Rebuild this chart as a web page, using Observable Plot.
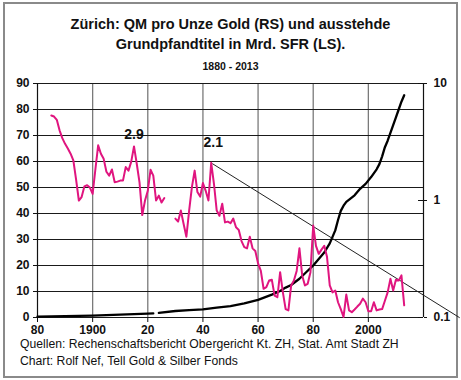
<!DOCTYPE html>
<html><head><meta charset="utf-8">
<script src="https://cdn.jsdelivr.net/npm/d3@7"></script>
<script src="https://cdn.jsdelivr.net/npm/@observablehq/plot@0.6"></script>
<style>
body{margin:0;width:461px;height:380px;position:relative;background:#fff;font-family:"Liberation Sans",Arial,sans-serif;overflow:hidden}
.frame{position:absolute;left:3px;top:2px;width:451px;height:372px;border:2px solid #8a8a8a}
.t{position:absolute;left:0;width:461px;text-align:center;font-weight:bold;color:#111}
#chart,#overlay{position:absolute;left:0;top:72px}
.cap{position:absolute;left:20px;top:336px;font-size:12.2px;line-height:16.5px;color:#111;white-space:nowrap}
</style></head><body>
<div class="frame"></div>
<div class="t" style="top:14px;font-size:14.5px;line-height:20px">Zürich: QM pro Unze Gold (RS) und ausstehde<br>Grundpfandtitel in Mrd. SFR (LS).</div>
<div class="t" style="top:60px;font-size:10.5px;line-height:12px">1880 - 2013</div>
<div id="chart"></div>
<div id="overlay"></div>
<div class="cap">Quellen: Rechenschaftsbericht Obergericht Kt. ZH, Stat. Amt Stadt ZH<br>Chart: Rolf Nef, Tell Gold &amp; Silber Fonds</div>
<script>
// Grundpfandtitel (Mrd. SFR, left scale)
const mortYears = [1880,1885,1890,1895,1900,1905,1910,1915,1920,1922,1923,1924,1930,1935,1940,1945,1950,1955,1960,1965,1968,1970,1972,1975,1978,1980,1982,1984,1986,1987,1988,1989,1990,1991,1992,1995,1997,1999,2001,2003,2004,2005,2006,2007,2008,2009,2010,2011,2012,2013];
const mortValues = [0.3,0.4,0.5,0.6,0.7,0.9,1.1,1.3,1.5,1.6,null,1.8,2.5,2.8,3.1,3.8,4.4,5.4,6.8,8.8,10.2,11.5,12.5,14.9,18,20,22.5,25,28.5,31,33.5,37.5,41,43,44.5,47,49.5,51.4,54,57,59,62,65.5,68,71,74,77,80,83,85.5];

// QM pro Unze Gold (right scale, log)
const qmYears = [1885,1886,1887,1888,1889,
 1890,1891,1892,1893,1894,1895,1896,1897,1898,1899,
 1900,1901,1902,1903,1904,1905,1906,1907,1908,1909,
 1910,1911,1912,1913,1914,1915,1916,1917,1918,1919,
 1920,1921,1922,1923,1924,1925,1926,1927,1928,1929,
 1930,1931,1932,1933,1934,1935,1936,1937,1938,1939,
 1940,1941,1942,1943,1944,1945,1946,1947,1948,1949,
 1950,1951,1952,1953,1954,1955,1956,1957,1958,1959,
 1960,1961,1962,1963,1964,1965,1966,1967,1968,1969,
 1970,1971,1972,1973,1974,1975,1976,1977,1978,1979,
 1980,1981,1982,1983,1984,1985,1986,1987,1988,1989,
 1990,1991,1992,1993,1994,1995,1996,1997,1998,1999,
 2000,2001,2002,2003,2004,2005,2006,2007,2008,2009,
 2010,2011,2012,2013];
const qmValues = [5.33,5.22,4.89,3.98,3.41,
 3.05,2.78,2.51,2.20,1.51,1.00,1.07,1.32,1.35,1.29,
 1.14,1.85,2.96,2.51,2.27,1.76,1.63,1.84,1.43,1.45,
 1.48,1.48,1.93,1.80,2.15,2.90,2.06,1.43,0.75,1.00,
 1.21,1.83,1.63,1.00,1.10,0.96,1.05,null,null,null,
 0.70,0.66,0.82,0.63,0.49,0.82,1.30,1.80,1.18,1.08,
 1.41,1.21,1.00,2.10,1.39,0.82,0.74,0.94,0.65,0.66,
 0.64,0.70,0.59,0.56,0.45,0.40,0.39,0.49,0.39,0.37,
 0.29,0.25,0.176,0.182,0.207,0.210,0.154,0.149,0.244,0.164,
 0.118,0.115,0.188,0.207,0.25,0.39,0.229,0.188,0.194,0.244,
 0.61,0.41,0.35,0.38,0.41,0.33,0.188,0.164,0.170,0.135,
 0.118,0.101,0.157,0.115,0.111,0.117,0.124,0.131,0.145,0.135,
 0.113,0.113,0.135,0.115,0.117,0.118,0.139,0.164,0.214,0.170,
 0.210,0.207,0.229,0.127];

// trend line (QM scale)
const trendYears = [1943.5, 2033];
const trendQM = [2.06, 0.1];

// peak annotations
const peakYears = [1915, 1943];
const peakQM = [2.9, 2.1];
const peakTexts = ["2.9", "2.1"];

// axes
const xTicks = [1880,1900,1920,1940,1960,1980,2000];
const xTickLabels = ["80","1900","20","40","60","80","2000"];
const xGrid = [1900,1920,1940,1960,1980,2000];
const xEdges = [1880,2020];
const leftTicks = [0,10,20,30,40,50,60,70,80,90];
const rightTicks = [0.1,1,10];
const rightTickLabels = ["0.1","1","10"];

const W=461,H=268,mL=37,mR=38,mT=11,mB=23;
const font = '"Liberation Sans", Arial, sans-serif';
const idx = (arr)=>d3.range(arr.length);

const base = Plot.plot({
  width:W,height:H,marginLeft:mL,marginRight:mR,marginTop:mT,marginBottom:mB,
  style:{fontFamily:font,fontSize:"12px",fontWeight:"bold",color:"#111",background:"transparent",overflow:"visible"},
  x:{domain:xEdges},
  y:{domain:[0,90]},
  marks:[
    Plot.ruleX(xGrid,{stroke:"#7a7a7a",strokeWidth:1.3}),
    Plot.ruleY(leftTicks,{stroke:"#1a1a1a",strokeWidth:1}),
    Plot.ruleX(xEdges,{stroke:"#111",strokeWidth:1.2}),
    Plot.axisY({ticks:leftTicks,tickSize:4,tickPadding:4,tickFormat:d=>String(d),label:null,fontWeight:"bold"}),
    Plot.axisX({ticks:xTicks,tickSize:5,tickPadding:3,tickFormat:d=>xTickLabels[xTicks.indexOf(d)],label:null,fontWeight:"bold"}),
    Plot.lineY(idx(mortYears),{x:i=>mortYears[i],y:i=>mortValues[i],stroke:"#000",strokeWidth:2.3})
  ]
});
document.getElementById("chart").appendChild(base);

const over = Plot.plot({
  width:W,height:H,marginLeft:mL,marginRight:mR,marginTop:mT,marginBottom:mB,
  style:{fontFamily:font,fontSize:"12px",fontWeight:"bold",color:"#111",background:"transparent",overflow:"visible"},
  x:{domain:xEdges,axis:null},
  y:{type:"log",domain:[0.1,10]},
  marks:[
    Plot.axisY({anchor:"right",ticks:rightTicks,tickSize:3,tickPadding:7,tickFormat:d=>rightTickLabels[rightTicks.indexOf(d)],label:null,fontWeight:"bold"}),
    Plot.ruleY(rightTicks,{x1:2018.2,x2:2020,stroke:"#111"}),
    Plot.line(idx(trendYears),{x:i=>trendYears[i],y:i=>trendQM[i],stroke:"#222",strokeWidth:1}),
    Plot.line(idx(qmYears),{x:i=>qmYears[i],y:i=>qmValues[i],stroke:"#e0157f",strokeWidth:2}),
    Plot.text([0],{x:i=>peakYears[i],y:i=>peakQM[i],text:i=>peakTexts[i],dy:-12,fontSize:14,fontWeight:"bold",fill:"#111"}),
    Plot.text([1],{x:i=>peakYears[i],y:i=>peakQM[i],text:i=>peakTexts[i],dx:2,dy:-20,fontSize:14,fontWeight:"bold",fill:"#111"})
  ]
});
document.getElementById("overlay").appendChild(over);
</script>
</body></html>
